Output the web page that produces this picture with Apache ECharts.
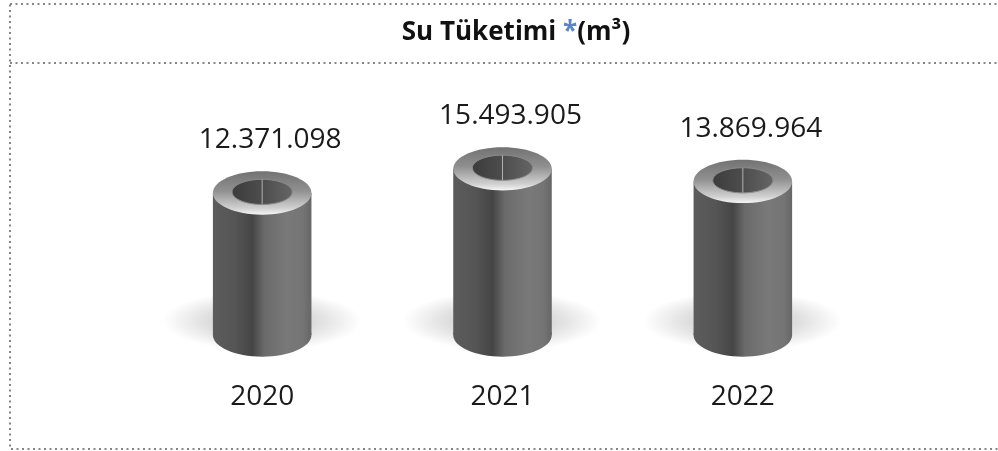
<!DOCTYPE html>
<html>
<head>
<meta charset="utf-8">
<script src="https://cdn.jsdelivr.net/npm/echarts@6/dist/echarts.min.js"></script>
<style>
  html, body { margin: 0; padding: 0; background: #fff; }
  #chart { width: 998px; height: 451px; }
</style>
</head>
<body>
<div id="chart"></div>
<script>
const years = ['2020', '2021', '2022']
const consumption = [12371098, 15493905, 13869964]
const yMin = -6000000
const yMax = 20000000

const fmt = (v) => String(v).replace(/\B(?=(\d{3})+(?!\d))/g, '.')

const bodyGrad = {
  type: 'linear', x: 0, y: 0, x2: 1, y2: 0,
  colorStops: [
    { offset: 0, color: '#5c5c5c' },
    { offset: 0.22, color: '#555' },
    { offset: 0.4, color: '#454545' },
    { offset: 0.52, color: '#6a6a6a' },
    { offset: 0.75, color: '#797979' },
    { offset: 0.92, color: '#747474' },
    { offset: 1, color: '#666' },
  ],
}
const rimGrad = {
  type: 'linear', x: 0, y: 0, x2: 0, y2: 1,
  colorStops: [
    { offset: 0, color: '#727272' },
    { offset: 0.45, color: '#909090' },
    { offset: 0.85, color: '#d0d0d0' },
    { offset: 1, color: '#f6f6f6' },
  ],
}
const holeGrad = {
  type: 'linear', x: 0, y: 0, x2: 1, y2: 0,
  colorStops: [
    { offset: 0, color: '#3c3c3c' },
    { offset: 0.5, color: '#4d4d4d' },
    { offset: 1, color: '#656565' },
  ],
}
const shadowGrad = {
  type: 'radial', x: 0.5, y: 0.5, r: 0.5,
  colorStops: [
    { offset: 0, color: 'rgba(0,0,0,0.3)' },
    { offset: 0.55, color: 'rgba(0,0,0,0.13)' },
    { offset: 1, color: 'rgba(0,0,0,0)' },
  ],
}

function renderItem(params, api) {
  const cat = api.value(0)
  const val = api.value(1)
  const top = api.coord([cat, val])
  const base = api.coord([cat, yMin])
  const bw = api.size([1, 0])[0]
  const cx = top[0]
  const rx = bw * 0.205
  const ry = rx * 0.44
  const sr = rx + 50
  return {
    type: 'group',
    children: [
      {
        type: 'circle',
        x: cx,
        y: base[1] - 14,
        scaleY: 30 / sr,
        shape: { cx: 0, cy: 0, r: sr },
        style: { fill: shadowGrad },
      },
      {
        type: 'rect',
        shape: { x: cx - rx, y: top[1], width: rx * 2, height: base[1] - top[1] },
        style: { fill: bodyGrad },
      },
      {
        type: 'ellipse',
        shape: { cx: cx, cy: base[1], rx: rx, ry: ry },
        style: { fill: bodyGrad },
      },
      {
        type: 'ellipse',
        shape: { cx: cx, cy: top[1], rx: rx, ry: ry },
        style: { fill: rimGrad },
      },
      {
        type: 'ellipse',
        shape: { cx: cx, cy: top[1] - ry * 0.05, rx: rx * 0.61, ry: ry * 0.58 },
        style: { fill: holeGrad, stroke: '#8a8a8a', lineWidth: 1 },
      },
      {
        type: 'line',
        shape: { x1: cx, y1: top[1] - ry * 0.62, x2: cx, y2: top[1] + ry * 0.52 },
        style: { stroke: 'rgba(220,220,220,0.7)', lineWidth: 1 },
      },
      {
        type: 'text',
        x: cx + 8,
        y: top[1] - ry - 31,
        style: {
          text: fmt(val),
          fill: '#1a1a1a',
          font: '28px "Open Sans"',
          align: 'center',
          verticalAlign: 'middle',
        },
      },
    ],
  }
}

const chart = echarts.init(document.getElementById('chart'))
chart.setOption({
  backgroundColor: '#fff',
  animation: false,
  title: {
    text: 'Su Tüketimi {b|*}(m³)',
    left: 511,
    top: 15,
    textAlign: 'center',
    textStyle: {
      fontFamily: 'Open Sans',
      fontSize: 26,
      fontWeight: 'bold',
      color: '#111',
      rich: {
        b: { fontFamily: 'Open Sans', fontSize: 26, fontWeight: 'bold', color: '#5b84c4' },
      },
    },
  },
  graphic: [
    {
      type: 'rect',
      shape: { x: 10, y: 4, width: 1000, height: 445 },
      style: { fill: null, stroke: '#858585', lineWidth: 2, lineDash: [2, 3.5] },
      silent: true,
    },
    {
      type: 'line',
      shape: { x1: 10, y1: 63, x2: 998, y2: 63 },
      style: { stroke: '#858585', lineWidth: 2, lineDash: [2, 3.5] },
      silent: true,
    },
  ],
  grid: { left: 142, right: 135, top: 134, bottom: 116 },
  xAxis: {
    type: 'category',
    data: years,
    axisLine: { show: false },
    axisTick: { show: false },
    axisLabel: {
      margin: 48,
      color: '#1a1a1a',
      fontFamily: 'Open Sans',
      fontSize: 28,
      lineHeight: 28,
    },
  },
  yAxis: {
    type: 'value',
    min: yMin,
    max: yMax,
    show: false,
    splitLine: { show: false },
  },
  series: [
    {
      type: 'custom',
      renderItem: renderItem,
      data: years.map((y, i) => [i, consumption[i]]),
      clip: false,
    },
  ],
})
</script>
</body>
</html>
